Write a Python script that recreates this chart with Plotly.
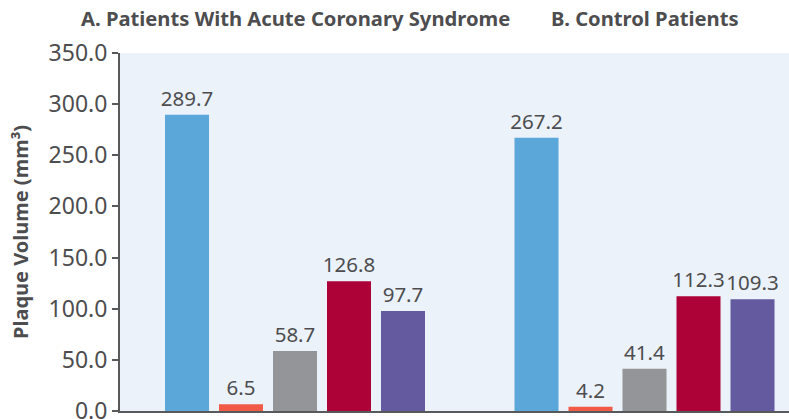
import plotly.graph_objects as go

groups = ["A", "B"]
group_titles = ["A. Patients With Acute Coronary Syndrome", "B. Control Patients"]
series_names = ["Series 1", "Series 2", "Series 3", "Series 4", "Series 5"]
series_values = [
    [289.7, 267.2],
    [6.5, 4.2],
    [58.7, 41.4],
    [126.8, 112.3],
    [97.7, 109.3],
]
series_colors = ["#5BA7DA", "#F05A46", "#939598", "#AD0238", "#635A9F"]
y_ticks = [0, 50, 100, 150, 200, 250, 300, 350]
y_title = "Plaque Volume (mm³)"

x_idx = list(range(len(groups)))
txt_color = "#4D4D4F"
font_family = "Noto Sans, DejaVu Sans, sans-serif"

fig = go.Figure()
for name, vals, col in zip(series_names, series_values, series_colors):
    fig.add_trace(go.Bar(
        x=x_idx, y=vals, name=name,
        marker=dict(color=col, line=dict(width=0)),
        text=[f"{v:.1f}" for v in vals],
        textposition="outside", constraintext="none",
        textfont=dict(size=20.5, color=txt_color, family=font_family),
        cliponaxis=False,
    ))

for i, t in enumerate(group_titles):
    fig.add_annotation(
        x=x_idx[i], xref="x", y=1.098, yref="paper",
        text=f"<b>{t}</b>", showarrow=False,
        font=dict(size=20.2, color=txt_color, family=font_family),
        xanchor="center", yanchor="middle",
    )

fig.add_annotation(
    x=-0.1495, xref="paper", y=0.5, yref="paper",
    text=f"<b>{y_title}</b>", showarrow=False, textangle=-90,
    font=dict(size=20, color=txt_color, family=font_family),
    xanchor="center", yanchor="middle",
)

fig.update_layout(
    width=789, height=419,
    margin=dict(l=120, r=0, t=53, b=8, autoexpand=False),
    barmode="group", bargap=0.2275, bargroupgap=0.185,
    paper_bgcolor="white", plot_bgcolor="#EBF2FA",
    showlegend=False,
    font=dict(family=font_family, color=txt_color),
)
fig.update_xaxes(
    range=[-0.5007, 1.4134], showticklabels=False, ticks="",
    showgrid=False, zeroline=False, automargin=False,
    showline=True, linecolor="#58595B", linewidth=2,
)
fig.update_yaxes(
    range=[0, 350], tickvals=y_ticks, ticktext=[f"{v:.1f}" for v in y_ticks],
    tickfont=dict(size=23, color=txt_color, family=font_family),
    ticks="outside", ticklen=6, tickcolor="#58595B", tickwidth=2,
    ticklabeloverflow="allow",
    showgrid=False, zeroline=False, automargin=False,
    showline=True, linecolor="#58595B", linewidth=2,
)

fig.write_html("out.html", config={"displayModeBar": False},
               post_script="document.body.style.margin='0px';")
